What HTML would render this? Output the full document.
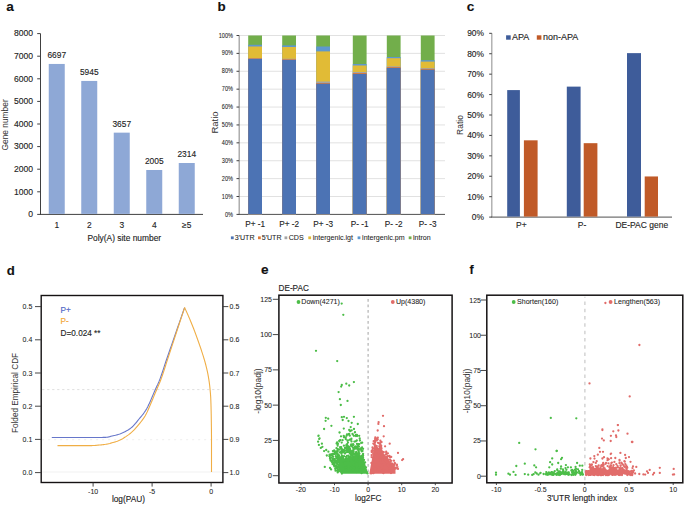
<!DOCTYPE html>
<html><head><meta charset="utf-8"><style>
html,body{margin:0;padding:0;background:#fff;width:685px;height:505px;overflow:hidden}
svg{display:block;font-family:"Liberation Sans", sans-serif}
text{stroke:currentColor;stroke-width:0.12px;paint-order:stroke}
text.s{stroke-width:0.06px}
text.r{stroke:none}
</style></head><body>
<svg width="685" height="505" viewBox="0 0 685 505">
<rect width="685" height="505" fill="#fff"/>
<text transform="translate(6.20,11.20) scale(1,1.0)" font-size="13.6" text-anchor="start" fill="#111" color="#111" font-weight="bold" >a</text>
<line x1="40.50" y1="33.60" x2="40.50" y2="214.90" stroke="#404040" stroke-width="1" />
<line x1="40.00" y1="214.40" x2="203.00" y2="214.40" stroke="#404040" stroke-width="1" />
<line x1="37.20" y1="214.40" x2="40.50" y2="214.40" stroke="#404040" stroke-width="1" />
<text transform="translate(33.00,217.10) scale(1,1.03)" font-size="8.6" text-anchor="end" fill="#222" color="#222" font-weight="normal" >0</text>
<line x1="37.20" y1="191.80" x2="40.50" y2="191.80" stroke="#404040" stroke-width="1" />
<text transform="translate(33.00,194.50) scale(1,1.03)" font-size="8.6" text-anchor="end" fill="#222" color="#222" font-weight="normal" >1000</text>
<line x1="37.20" y1="169.20" x2="40.50" y2="169.20" stroke="#404040" stroke-width="1" />
<text transform="translate(33.00,171.90) scale(1,1.03)" font-size="8.6" text-anchor="end" fill="#222" color="#222" font-weight="normal" >2000</text>
<line x1="37.20" y1="146.60" x2="40.50" y2="146.60" stroke="#404040" stroke-width="1" />
<text transform="translate(33.00,149.30) scale(1,1.03)" font-size="8.6" text-anchor="end" fill="#222" color="#222" font-weight="normal" >3000</text>
<line x1="37.20" y1="124.00" x2="40.50" y2="124.00" stroke="#404040" stroke-width="1" />
<text transform="translate(33.00,126.70) scale(1,1.03)" font-size="8.6" text-anchor="end" fill="#222" color="#222" font-weight="normal" >4000</text>
<line x1="37.20" y1="101.40" x2="40.50" y2="101.40" stroke="#404040" stroke-width="1" />
<text transform="translate(33.00,104.10) scale(1,1.03)" font-size="8.6" text-anchor="end" fill="#222" color="#222" font-weight="normal" >5000</text>
<line x1="37.20" y1="78.80" x2="40.50" y2="78.80" stroke="#404040" stroke-width="1" />
<text transform="translate(33.00,81.50) scale(1,1.03)" font-size="8.6" text-anchor="end" fill="#222" color="#222" font-weight="normal" >6000</text>
<line x1="37.20" y1="56.20" x2="40.50" y2="56.20" stroke="#404040" stroke-width="1" />
<text transform="translate(33.00,58.90) scale(1,1.03)" font-size="8.6" text-anchor="end" fill="#222" color="#222" font-weight="normal" >7000</text>
<line x1="37.20" y1="33.60" x2="40.50" y2="33.60" stroke="#404040" stroke-width="1" />
<text transform="translate(33.00,36.30) scale(1,1.03)" font-size="8.6" text-anchor="end" fill="#222" color="#222" font-weight="normal" >8000</text>
<rect x="48.75" y="63.95" width="16.00" height="149.95" fill="#8EA8D6" />
<text transform="translate(56.75,58.25) scale(1,1.03)" font-size="8.4" text-anchor="middle" fill="#222" color="#222" font-weight="normal" >6697</text>
<text transform="translate(56.75,228.00) scale(1,1.03)" font-size="8.4" text-anchor="middle" fill="#222" color="#222" font-weight="normal" >1</text>
<rect x="81.25" y="80.94" width="16.00" height="132.96" fill="#8EA8D6" />
<text transform="translate(89.25,75.24) scale(1,1.03)" font-size="8.4" text-anchor="middle" fill="#222" color="#222" font-weight="normal" >5945</text>
<text transform="translate(89.25,228.00) scale(1,1.03)" font-size="8.4" text-anchor="middle" fill="#222" color="#222" font-weight="normal" >2</text>
<rect x="113.75" y="132.65" width="16.00" height="81.25" fill="#8EA8D6" />
<text transform="translate(121.75,126.95) scale(1,1.03)" font-size="8.4" text-anchor="middle" fill="#222" color="#222" font-weight="normal" >3657</text>
<text transform="translate(121.75,228.00) scale(1,1.03)" font-size="8.4" text-anchor="middle" fill="#222" color="#222" font-weight="normal" >3</text>
<rect x="146.25" y="169.99" width="16.00" height="43.91" fill="#8EA8D6" />
<text transform="translate(154.25,164.29) scale(1,1.03)" font-size="8.4" text-anchor="middle" fill="#222" color="#222" font-weight="normal" >2005</text>
<text transform="translate(154.25,228.00) scale(1,1.03)" font-size="8.4" text-anchor="middle" fill="#222" color="#222" font-weight="normal" >4</text>
<rect x="178.75" y="163.00" width="16.00" height="50.90" fill="#8EA8D6" />
<text transform="translate(186.75,157.30) scale(1,1.03)" font-size="8.4" text-anchor="middle" fill="#222" color="#222" font-weight="normal" >2314</text>
<text transform="translate(186.75,228.00) scale(1,1.03)" font-size="8.4" text-anchor="middle" fill="#222" color="#222" font-weight="normal" >≥5</text>
<text transform="translate(124.30,240.50) scale(1,1.03)" font-size="8.4" text-anchor="middle" fill="#222" color="#222" font-weight="normal" >Poly(A) site number</text>
<text class="r" x="0" y="0" font-size="8.4" text-anchor="middle" fill="#333" color="#333" transform="translate(7.90,124.90) rotate(-90)">Gene number</text>
<text transform="translate(217.60,11.10) scale(1,1.0)" font-size="13.4" text-anchor="start" fill="#111" color="#111" font-weight="bold" >b</text>
<line x1="239.20" y1="196.51" x2="445.00" y2="196.51" stroke="#D9D9D9" stroke-width="0.8" />
<line x1="239.20" y1="178.62" x2="445.00" y2="178.62" stroke="#D9D9D9" stroke-width="0.8" />
<line x1="239.20" y1="160.73" x2="445.00" y2="160.73" stroke="#D9D9D9" stroke-width="0.8" />
<line x1="239.20" y1="142.84" x2="445.00" y2="142.84" stroke="#D9D9D9" stroke-width="0.8" />
<line x1="239.20" y1="124.95" x2="445.00" y2="124.95" stroke="#D9D9D9" stroke-width="0.8" />
<line x1="239.20" y1="107.06" x2="445.00" y2="107.06" stroke="#D9D9D9" stroke-width="0.8" />
<line x1="239.20" y1="89.17" x2="445.00" y2="89.17" stroke="#D9D9D9" stroke-width="0.8" />
<line x1="239.20" y1="71.28" x2="445.00" y2="71.28" stroke="#D9D9D9" stroke-width="0.8" />
<line x1="239.20" y1="53.39" x2="445.00" y2="53.39" stroke="#D9D9D9" stroke-width="0.8" />
<line x1="239.20" y1="35.50" x2="445.00" y2="35.50" stroke="#D9D9D9" stroke-width="0.8" />
<line x1="239.20" y1="35.50" x2="239.20" y2="214.40" stroke="#A0A0A0" stroke-width="1.3" />
<line x1="238.60" y1="214.40" x2="445.00" y2="214.40" stroke="#505050" stroke-width="1" />
<line x1="236.50" y1="214.40" x2="239.20" y2="214.40" stroke="#404040" stroke-width="1" />
<text class="s" transform="translate(233.00,216.50) scale(1,1.2)" font-size="5.6" text-anchor="end" fill="#222" color="#222" font-weight="normal" >0%</text>
<line x1="236.50" y1="196.51" x2="239.20" y2="196.51" stroke="#404040" stroke-width="1" />
<text class="s" transform="translate(233.00,198.61) scale(1,1.2)" font-size="5.6" text-anchor="end" fill="#222" color="#222" font-weight="normal" >10%</text>
<line x1="236.50" y1="178.62" x2="239.20" y2="178.62" stroke="#404040" stroke-width="1" />
<text class="s" transform="translate(233.00,180.72) scale(1,1.2)" font-size="5.6" text-anchor="end" fill="#222" color="#222" font-weight="normal" >20%</text>
<line x1="236.50" y1="160.73" x2="239.20" y2="160.73" stroke="#404040" stroke-width="1" />
<text class="s" transform="translate(233.00,162.83) scale(1,1.2)" font-size="5.6" text-anchor="end" fill="#222" color="#222" font-weight="normal" >30%</text>
<line x1="236.50" y1="142.84" x2="239.20" y2="142.84" stroke="#404040" stroke-width="1" />
<text class="s" transform="translate(233.00,144.94) scale(1,1.2)" font-size="5.6" text-anchor="end" fill="#222" color="#222" font-weight="normal" >40%</text>
<line x1="236.50" y1="124.95" x2="239.20" y2="124.95" stroke="#404040" stroke-width="1" />
<text class="s" transform="translate(233.00,127.05) scale(1,1.2)" font-size="5.6" text-anchor="end" fill="#222" color="#222" font-weight="normal" >50%</text>
<line x1="236.50" y1="107.06" x2="239.20" y2="107.06" stroke="#404040" stroke-width="1" />
<text class="s" transform="translate(233.00,109.16) scale(1,1.2)" font-size="5.6" text-anchor="end" fill="#222" color="#222" font-weight="normal" >60%</text>
<line x1="236.50" y1="89.17" x2="239.20" y2="89.17" stroke="#404040" stroke-width="1" />
<text class="s" transform="translate(233.00,91.27) scale(1,1.2)" font-size="5.6" text-anchor="end" fill="#222" color="#222" font-weight="normal" >70%</text>
<line x1="236.50" y1="71.28" x2="239.20" y2="71.28" stroke="#404040" stroke-width="1" />
<text class="s" transform="translate(233.00,73.38) scale(1,1.2)" font-size="5.6" text-anchor="end" fill="#222" color="#222" font-weight="normal" >80%</text>
<line x1="236.50" y1="53.39" x2="239.20" y2="53.39" stroke="#404040" stroke-width="1" />
<text class="s" transform="translate(233.00,55.49) scale(1,1.2)" font-size="5.6" text-anchor="end" fill="#222" color="#222" font-weight="normal" >90%</text>
<line x1="236.50" y1="35.50" x2="239.20" y2="35.50" stroke="#404040" stroke-width="1" />
<text class="s" transform="translate(233.00,37.60) scale(1,1.2)" font-size="5.6" text-anchor="end" fill="#222" color="#222" font-weight="normal" >100%</text>
<rect x="248.20" y="35.50" width="13.80" height="178.90" fill="#72AE4B" />
<rect x="248.20" y="44.80" width="13.80" height="169.60" fill="#5E98CF" />
<rect x="248.20" y="46.50" width="13.80" height="167.90" fill="#E1BB36" />
<rect x="248.20" y="58.00" width="13.80" height="156.40" fill="#A5A5A5" />
<rect x="248.20" y="58.40" width="13.80" height="156.00" fill="#E07B39" />
<rect x="248.20" y="58.90" width="13.80" height="155.50" fill="#4C73B4" />
<rect x="282.20" y="35.50" width="13.80" height="178.90" fill="#72AE4B" />
<rect x="282.20" y="45.40" width="13.80" height="169.00" fill="#5E98CF" />
<rect x="282.20" y="47.00" width="13.80" height="167.40" fill="#E1BB36" />
<rect x="282.20" y="58.70" width="13.80" height="155.70" fill="#A5A5A5" />
<rect x="282.20" y="59.30" width="13.80" height="155.10" fill="#E07B39" />
<rect x="282.20" y="59.90" width="13.80" height="154.50" fill="#4C73B4" />
<rect x="316.20" y="35.50" width="13.80" height="178.90" fill="#72AE4B" />
<rect x="316.20" y="46.50" width="13.80" height="167.90" fill="#5E98CF" />
<rect x="316.20" y="51.40" width="13.80" height="163.00" fill="#E1BB36" />
<rect x="316.20" y="81.50" width="13.80" height="132.90" fill="#A5A5A5" />
<rect x="316.20" y="83.00" width="13.80" height="131.40" fill="#E07B39" />
<rect x="316.20" y="83.70" width="13.80" height="130.70" fill="#4C73B4" />
<rect x="352.80" y="35.50" width="13.80" height="178.90" fill="#72AE4B" />
<rect x="352.80" y="64.00" width="13.80" height="150.40" fill="#5E98CF" />
<rect x="352.80" y="65.50" width="13.80" height="148.90" fill="#E1BB36" />
<rect x="352.80" y="72.00" width="13.80" height="142.40" fill="#A5A5A5" />
<rect x="352.80" y="73.00" width="13.80" height="141.40" fill="#E07B39" />
<rect x="352.80" y="73.90" width="13.80" height="140.50" fill="#4C73B4" />
<rect x="386.80" y="35.50" width="13.80" height="178.90" fill="#72AE4B" />
<rect x="386.80" y="57.00" width="13.80" height="157.40" fill="#5E98CF" />
<rect x="386.80" y="58.20" width="13.80" height="156.20" fill="#E1BB36" />
<rect x="386.80" y="66.30" width="13.80" height="148.10" fill="#A5A5A5" />
<rect x="386.80" y="67.10" width="13.80" height="147.30" fill="#E07B39" />
<rect x="386.80" y="67.90" width="13.80" height="146.50" fill="#4C73B4" />
<rect x="420.80" y="35.50" width="13.80" height="178.90" fill="#72AE4B" />
<rect x="420.80" y="60.20" width="13.80" height="154.20" fill="#5E98CF" />
<rect x="420.80" y="61.60" width="13.80" height="152.80" fill="#E1BB36" />
<rect x="420.80" y="68.10" width="13.80" height="146.30" fill="#A5A5A5" />
<rect x="420.80" y="68.90" width="13.80" height="145.50" fill="#E07B39" />
<rect x="420.80" y="69.70" width="13.80" height="144.70" fill="#4C73B4" />
<text transform="translate(255.10,226.90) scale(1,1.03)" font-size="8.2" text-anchor="middle" fill="#222" color="#222" font-weight="normal" >P+ -1</text>
<text transform="translate(289.10,226.90) scale(1,1.03)" font-size="8.2" text-anchor="middle" fill="#222" color="#222" font-weight="normal" >P+ -2</text>
<text transform="translate(323.10,226.90) scale(1,1.03)" font-size="8.2" text-anchor="middle" fill="#222" color="#222" font-weight="normal" >P+ -3</text>
<text transform="translate(359.70,226.90) scale(1,1.03)" font-size="8.2" text-anchor="middle" fill="#222" color="#222" font-weight="normal" >P- -1</text>
<text transform="translate(393.70,226.90) scale(1,1.03)" font-size="8.2" text-anchor="middle" fill="#222" color="#222" font-weight="normal" >P- -2</text>
<text transform="translate(427.70,226.90) scale(1,1.03)" font-size="8.2" text-anchor="middle" fill="#222" color="#222" font-weight="normal" >P- -3</text>
<rect x="230.90" y="236.40" width="2.80" height="2.80" fill="#4C73B4" />
<text class="s" transform="translate(234.70,240.40) scale(1,1.03)" font-size="7.1" text-anchor="start" fill="#222" color="#222" font-weight="normal" >3'UTR</text>
<rect x="258.00" y="236.40" width="2.80" height="2.80" fill="#E07B39" />
<text class="s" transform="translate(261.70,240.40) scale(1,1.03)" font-size="7.1" text-anchor="start" fill="#222" color="#222" font-weight="normal" >5'UTR</text>
<rect x="284.50" y="236.40" width="2.80" height="2.80" fill="#A5A5A5" />
<text class="s" transform="translate(288.70,240.40) scale(1,1.03)" font-size="7.1" text-anchor="start" fill="#222" color="#222" font-weight="normal" >CDS</text>
<rect x="308.30" y="236.40" width="2.80" height="2.80" fill="#E1BB36" />
<text class="s" transform="translate(312.80,240.40) scale(1,1.03)" font-size="7.1" text-anchor="start" fill="#222" color="#222" font-weight="normal" >intergenic.igt</text>
<rect x="357.60" y="236.40" width="2.80" height="2.80" fill="#5E98CF" />
<text class="s" transform="translate(362.10,240.40) scale(1,1.03)" font-size="7.1" text-anchor="start" fill="#222" color="#222" font-weight="normal" >intergenic.pm</text>
<rect x="408.70" y="236.40" width="2.80" height="2.80" fill="#72AE4B" />
<text class="s" transform="translate(413.00,240.40) scale(1,1.03)" font-size="7.1" text-anchor="start" fill="#222" color="#222" font-weight="normal" >intron</text>
<text class="r" x="0" y="0" font-size="9.5" text-anchor="middle" fill="#333" color="#333" transform="translate(218.20,122.50) rotate(-90)">Ratio</text>
<text transform="translate(466.80,11.30) scale(1,1.0)" font-size="13.6" text-anchor="start" fill="#111" color="#111" font-weight="bold" >c</text>
<line x1="491.80" y1="33.32" x2="491.80" y2="217.10" stroke="#A6A6A6" stroke-width="1.3" />
<line x1="491.20" y1="217.10" x2="672.00" y2="217.10" stroke="#505050" stroke-width="1" />
<line x1="489.20" y1="217.10" x2="491.80" y2="217.10" stroke="#404040" stroke-width="1" />
<text transform="translate(484.00,220.10) scale(1,1.03)" font-size="8.4" text-anchor="end" fill="#222" color="#222" font-weight="normal" >0%</text>
<line x1="489.20" y1="196.68" x2="491.80" y2="196.68" stroke="#404040" stroke-width="1" />
<text transform="translate(484.00,199.68) scale(1,1.03)" font-size="8.4" text-anchor="end" fill="#222" color="#222" font-weight="normal" >10%</text>
<line x1="489.20" y1="176.26" x2="491.80" y2="176.26" stroke="#404040" stroke-width="1" />
<text transform="translate(484.00,179.26) scale(1,1.03)" font-size="8.4" text-anchor="end" fill="#222" color="#222" font-weight="normal" >20%</text>
<line x1="489.20" y1="155.84" x2="491.80" y2="155.84" stroke="#404040" stroke-width="1" />
<text transform="translate(484.00,158.84) scale(1,1.03)" font-size="8.4" text-anchor="end" fill="#222" color="#222" font-weight="normal" >30%</text>
<line x1="489.20" y1="135.42" x2="491.80" y2="135.42" stroke="#404040" stroke-width="1" />
<text transform="translate(484.00,138.42) scale(1,1.03)" font-size="8.4" text-anchor="end" fill="#222" color="#222" font-weight="normal" >40%</text>
<line x1="489.20" y1="115.00" x2="491.80" y2="115.00" stroke="#404040" stroke-width="1" />
<text transform="translate(484.00,118.00) scale(1,1.03)" font-size="8.4" text-anchor="end" fill="#222" color="#222" font-weight="normal" >50%</text>
<line x1="489.20" y1="94.58" x2="491.80" y2="94.58" stroke="#404040" stroke-width="1" />
<text transform="translate(484.00,97.58) scale(1,1.03)" font-size="8.4" text-anchor="end" fill="#222" color="#222" font-weight="normal" >60%</text>
<line x1="489.20" y1="74.16" x2="491.80" y2="74.16" stroke="#404040" stroke-width="1" />
<text transform="translate(484.00,77.16) scale(1,1.03)" font-size="8.4" text-anchor="end" fill="#222" color="#222" font-weight="normal" >70%</text>
<line x1="489.20" y1="53.74" x2="491.80" y2="53.74" stroke="#404040" stroke-width="1" />
<text transform="translate(484.00,56.74) scale(1,1.03)" font-size="8.4" text-anchor="end" fill="#222" color="#222" font-weight="normal" >80%</text>
<line x1="489.20" y1="33.32" x2="491.80" y2="33.32" stroke="#404040" stroke-width="1" />
<text transform="translate(484.00,36.32) scale(1,1.03)" font-size="8.4" text-anchor="end" fill="#222" color="#222" font-weight="normal" >90%</text>
<rect x="507.20" y="90.09" width="12.70" height="126.51" fill="#3E5C9A" />
<rect x="523.90" y="140.32" width="13.70" height="76.28" fill="#C05A28" />
<text transform="translate(521.30,227.80) scale(1,1.03)" font-size="8.5" text-anchor="middle" fill="#222" color="#222" font-weight="normal" >P+</text>
<rect x="566.80" y="86.62" width="13.80" height="129.98" fill="#3E5C9A" />
<rect x="583.70" y="143.18" width="13.70" height="73.42" fill="#C05A28" />
<text transform="translate(582.00,227.80) scale(1,1.03)" font-size="8.5" text-anchor="middle" fill="#222" color="#222" font-weight="normal" >P-</text>
<rect x="627.00" y="53.13" width="14.00" height="163.47" fill="#3E5C9A" />
<rect x="644.70" y="176.46" width="13.30" height="40.14" fill="#C05A28" />
<text transform="translate(641.80,227.80) scale(1,1.03)" font-size="8.5" text-anchor="middle" fill="#222" color="#222" font-weight="normal" >DE-PAC gene</text>
<rect x="506.10" y="35.30" width="4.60" height="4.40" fill="#3E5C9A" />
<text transform="translate(512.00,40.20) scale(1,1.03)" font-size="9.0" text-anchor="start" fill="#222" color="#222" font-weight="normal" >APA</text>
<rect x="536.80" y="35.30" width="4.60" height="4.40" fill="#C05A28" />
<text transform="translate(543.00,40.20) scale(1,1.03)" font-size="9.0" text-anchor="start" fill="#222" color="#222" font-weight="normal" >non-APA</text>
<text class="r" x="0" y="0" font-size="8.5" text-anchor="middle" fill="#333" color="#333" transform="translate(462.70,125.00) rotate(-90)">Ratio</text>
<text transform="translate(6.80,274.50) scale(1,1.0)" font-size="13.2" text-anchor="start" fill="#111" color="#111" font-weight="bold" >d</text>
<line x1="42.20" y1="389.60" x2="221.90" y2="389.60" stroke="#D6D6D6" stroke-width="0.8" stroke-dasharray="2.2,2.8"/>
<line x1="42.20" y1="439.70" x2="221.90" y2="439.70" stroke="#E8E8E8" stroke-width="0.8" stroke-dasharray="2,4"/>
<line x1="42.20" y1="472.00" x2="221.90" y2="472.00" stroke="#EEEEEE" stroke-width="0.8" />
<path d="M51.80,437.50 L52.92,437.50 L54.03,437.50 L55.15,437.50 L56.26,437.50 L57.38,437.50 L58.50,437.50 L59.61,437.50 L60.73,437.50 L61.84,437.50 L62.96,437.50 L64.08,437.50 L65.19,437.50 L66.31,437.50 L67.42,437.50 L68.54,437.50 L69.66,437.50 L70.77,437.50 L71.89,437.50 L73.00,437.50 L74.12,437.50 L75.24,437.50 L76.35,437.50 L77.47,437.50 L78.58,437.50 L79.70,437.50 L80.82,437.50 L81.93,437.50 L83.05,437.50 L84.16,437.50 L85.28,437.50 L86.39,437.50 L87.51,437.50 L88.63,437.50 L89.74,437.50 L90.86,437.50 L91.97,437.50 L93.09,437.50 L94.21,437.49 L95.32,437.49 L96.44,437.48 L97.55,437.48 L98.67,437.47 L99.79,437.46 L100.90,437.45 L102.02,437.44 L103.13,437.42 L104.25,437.41 L105.37,437.39 L106.48,437.29 L107.60,437.12 L108.71,436.89 L109.83,436.63 L110.95,436.34 L112.06,436.04 L113.18,435.75 L114.29,435.48 L115.41,435.22 L116.53,434.93 L117.64,434.63 L118.76,434.30 L119.87,433.94 L120.99,433.53 L122.11,433.08 L123.22,432.58 L124.34,432.04 L125.45,431.46 L126.57,430.85 L127.69,430.20 L128.80,429.49 L129.92,428.73 L131.03,427.90 L132.15,426.99 L133.27,425.93 L134.38,424.73 L135.50,423.42 L136.61,422.05 L137.73,420.65 L138.85,419.27 L139.96,417.92 L141.08,416.59 L142.19,415.23 L143.31,413.80 L144.43,412.28 L145.54,410.61 L146.66,408.75 L147.77,406.65 L148.89,404.36 L150.01,401.92 L151.12,399.37 L152.24,396.77 L153.35,394.15 L154.47,391.55 L155.58,389.03 L156.70,386.60 L157.82,384.18 L158.93,381.63 L160.05,378.84 L161.16,375.78 L162.28,372.51 L163.40,369.12 L164.51,365.69 L165.63,362.29 L166.74,359.00 L167.86,355.75 L168.98,352.52 L170.09,349.29 L171.21,346.07 L172.32,342.85 L173.44,339.64 L174.56,336.43 L175.67,333.22 L176.79,330.00 L177.90,326.80 L179.02,323.59 L180.14,320.39 L181.25,317.19 L182.37,313.99 L183.48,310.79 L184.60,307.60" fill="none" stroke="#6676CA" stroke-width="1.1" stroke-linejoin="round"/>
<path d="M57.50,445.60 L58.57,445.60 L59.64,445.60 L60.70,445.60 L61.77,445.60 L62.84,445.60 L63.91,445.60 L64.98,445.60 L66.04,445.60 L67.11,445.60 L68.18,445.60 L69.25,445.60 L70.32,445.60 L71.38,445.60 L72.45,445.60 L73.52,445.60 L74.59,445.60 L75.66,445.60 L76.73,445.60 L77.79,445.60 L78.86,445.60 L79.93,445.60 L81.00,445.60 L82.07,445.60 L83.13,445.60 L84.20,445.60 L85.27,445.60 L86.34,445.60 L87.41,445.60 L88.47,445.60 L89.54,445.60 L90.61,445.60 L91.68,445.58 L92.75,445.54 L93.81,445.50 L94.88,445.43 L95.95,445.36 L97.02,445.27 L98.09,445.17 L99.15,445.07 L100.22,444.96 L101.29,444.84 L102.36,444.71 L103.43,444.58 L104.49,444.45 L105.56,444.31 L106.63,444.13 L107.70,443.92 L108.77,443.67 L109.84,443.41 L110.90,443.12 L111.97,442.82 L113.04,442.52 L114.11,442.21 L115.18,441.89 L116.24,441.54 L117.31,441.16 L118.38,440.75 L119.45,440.31 L120.52,439.82 L121.58,439.27 L122.65,438.66 L123.72,438.01 L124.79,437.34 L125.86,436.64 L126.92,435.91 L127.99,435.15 L129.06,434.35 L130.13,433.51 L131.20,432.61 L132.26,431.67 L133.33,430.66 L134.40,429.57 L135.47,428.42 L136.54,427.21 L137.61,425.96 L138.67,424.68 L139.74,423.37 L140.81,422.03 L141.88,420.64 L142.95,419.17 L144.01,417.61 L145.08,415.92 L146.15,414.06 L147.22,411.88 L148.29,409.45 L149.35,406.96 L150.42,404.51 L151.49,402.01 L152.56,399.46 L153.63,396.89 L154.69,394.30 L155.76,391.72 L156.83,389.17 L157.90,386.68 L158.97,384.23 L160.03,381.69 L161.10,378.93 L162.17,375.95 L163.24,372.81 L164.31,369.55 L165.37,366.24 L166.44,362.93 L167.51,359.66 L168.58,356.43 L169.65,353.17 L170.72,349.90 L171.78,346.62 L172.85,343.34 L173.92,340.06 L174.99,336.79 L176.06,333.53 L177.12,330.27 L178.19,327.03 L179.26,323.78 L180.33,320.54 L181.40,317.30 L182.46,314.06 L183.53,310.83 L184.60,307.60" fill="none" stroke="#F0AE45" stroke-width="1.1" stroke-linejoin="round"/>
<path d="M184.60,307.60 L185.25,308.98 L185.88,310.36 L186.51,311.74 L187.14,313.13 L187.75,314.51 L188.36,315.89 L188.96,317.27 L189.55,318.65 L190.14,320.03 L190.72,321.42 L191.29,322.80 L191.85,324.18 L192.41,325.56 L192.97,326.94 L193.51,328.32 L194.05,329.70 L194.58,331.09 L195.09,332.47 L195.60,333.85 L196.10,335.23 L196.60,336.61 L197.09,337.99 L197.58,339.37 L198.07,340.76 L198.56,342.14 L199.05,343.52 L199.53,344.90 L200.01,346.28 L200.49,347.66 L200.96,349.05 L201.42,350.43 L201.87,351.81 L202.32,353.19 L202.76,354.57 L203.20,355.95 L203.63,357.33 L204.06,358.72 L204.47,360.10 L204.87,361.48 L205.25,362.86 L205.61,364.24 L205.97,365.62 L206.32,367.01 L206.65,368.39 L206.98,369.77 L207.29,371.15 L207.59,372.53 L207.87,373.91 L208.13,375.29 L208.37,376.68 L208.60,378.06 L208.83,379.44 L209.04,380.82 L209.24,382.20 L209.43,383.58 L209.61,384.96 L209.77,386.35 L209.91,387.73 L210.05,389.11 L210.18,390.49 L210.30,391.87 L210.42,393.25 L210.52,394.64 L210.62,396.02 L210.70,397.40 L210.77,398.78 L210.83,400.16 L210.88,401.54 L210.92,402.92 L210.97,404.31 L211.01,405.69 L211.05,407.07 L211.08,408.45 L211.11,409.83 L211.15,411.21 L211.17,412.59 L211.20,413.98 L211.23,415.36 L211.25,416.74 L211.27,418.12 L211.29,419.50 L211.31,420.88 L211.33,422.27 L211.35,423.65 L211.37,425.03 L211.39,426.41 L211.41,427.79 L211.43,429.17 L211.44,430.55 L211.46,431.94 L211.47,433.32 L211.48,434.70 L211.49,436.08 L211.50,437.46 L211.50,438.84 L211.50,440.23 L211.50,441.61 L211.50,442.99 L211.50,444.37 L211.50,445.75 L211.50,447.13 L211.50,448.51 L211.50,449.90 L211.50,451.28 L211.50,452.66 L211.50,454.04 L211.50,455.42 L211.50,456.80 L211.50,458.18 L211.50,459.57 L211.50,460.95 L211.50,462.33 L211.50,463.71 L211.50,465.09 L211.50,466.47 L211.50,467.86 L211.50,469.24 L211.50,470.62 L211.50,472.00" fill="none" stroke="#F0AE45" stroke-width="1.1" stroke-linejoin="round"/>
<rect x="41.20" y="295.50" width="181.70" height="187.00" fill="none" stroke="#151213" stroke-width="1.4"/>
<line x1="35.00" y1="472.60" x2="41.20" y2="472.60" stroke="#333" stroke-width="0.9" />
<text class="s" transform="translate(32.30,475.10) scale(1,1.03)" font-size="7" text-anchor="end" fill="#222" color="#222" font-weight="normal" >0.0</text>
<line x1="222.90" y1="472.60" x2="228.30" y2="472.60" stroke="#333" stroke-width="0.9" />
<text class="s" transform="translate(229.60,475.10) scale(1,1.03)" font-size="7" text-anchor="start" fill="#222" color="#222" font-weight="normal" >1.0</text>
<line x1="35.00" y1="439.40" x2="41.20" y2="439.40" stroke="#333" stroke-width="0.9" />
<text class="s" transform="translate(32.30,441.90) scale(1,1.03)" font-size="7" text-anchor="end" fill="#222" color="#222" font-weight="normal" >0.1</text>
<line x1="222.90" y1="439.40" x2="228.30" y2="439.40" stroke="#333" stroke-width="0.9" />
<text class="s" transform="translate(229.60,441.90) scale(1,1.03)" font-size="7" text-anchor="start" fill="#222" color="#222" font-weight="normal" >0.9</text>
<line x1="35.00" y1="406.20" x2="41.20" y2="406.20" stroke="#333" stroke-width="0.9" />
<text class="s" transform="translate(32.30,408.70) scale(1,1.03)" font-size="7" text-anchor="end" fill="#222" color="#222" font-weight="normal" >0.2</text>
<line x1="222.90" y1="406.20" x2="228.30" y2="406.20" stroke="#333" stroke-width="0.9" />
<text class="s" transform="translate(229.60,408.70) scale(1,1.03)" font-size="7" text-anchor="start" fill="#222" color="#222" font-weight="normal" >0.8</text>
<line x1="35.00" y1="373.00" x2="41.20" y2="373.00" stroke="#333" stroke-width="0.9" />
<text class="s" transform="translate(32.30,375.50) scale(1,1.03)" font-size="7" text-anchor="end" fill="#222" color="#222" font-weight="normal" >0.3</text>
<line x1="222.90" y1="373.00" x2="228.30" y2="373.00" stroke="#333" stroke-width="0.9" />
<text class="s" transform="translate(229.60,375.50) scale(1,1.03)" font-size="7" text-anchor="start" fill="#222" color="#222" font-weight="normal" >0.7</text>
<line x1="35.00" y1="339.80" x2="41.20" y2="339.80" stroke="#333" stroke-width="0.9" />
<text class="s" transform="translate(32.30,342.30) scale(1,1.03)" font-size="7" text-anchor="end" fill="#222" color="#222" font-weight="normal" >0.4</text>
<line x1="222.90" y1="339.80" x2="228.30" y2="339.80" stroke="#333" stroke-width="0.9" />
<text class="s" transform="translate(229.60,342.30) scale(1,1.03)" font-size="7" text-anchor="start" fill="#222" color="#222" font-weight="normal" >0.6</text>
<line x1="35.00" y1="306.60" x2="41.20" y2="306.60" stroke="#333" stroke-width="0.9" />
<text class="s" transform="translate(32.30,309.10) scale(1,1.03)" font-size="7" text-anchor="end" fill="#222" color="#222" font-weight="normal" >0.5</text>
<line x1="222.90" y1="306.60" x2="228.30" y2="306.60" stroke="#333" stroke-width="0.9" />
<text class="s" transform="translate(229.60,309.10) scale(1,1.03)" font-size="7" text-anchor="start" fill="#222" color="#222" font-weight="normal" >0.5</text>
<line x1="93.10" y1="482.50" x2="93.10" y2="486.60" stroke="#333" stroke-width="0.9" />
<text class="s" transform="translate(93.10,494.00) scale(1,1.03)" font-size="7" text-anchor="middle" fill="#222" color="#222" font-weight="normal" >-10</text>
<line x1="152.10" y1="482.50" x2="152.10" y2="486.60" stroke="#333" stroke-width="0.9" />
<text class="s" transform="translate(152.10,494.00) scale(1,1.03)" font-size="7" text-anchor="middle" fill="#222" color="#222" font-weight="normal" >-5</text>
<line x1="211.10" y1="482.50" x2="211.10" y2="486.60" stroke="#333" stroke-width="0.9" />
<text class="s" transform="translate(211.10,494.00) scale(1,1.03)" font-size="7" text-anchor="middle" fill="#222" color="#222" font-weight="normal" >0</text>
<text transform="translate(128.40,501.70) scale(1,1.03)" font-size="8.3" text-anchor="middle" fill="#222" color="#222" font-weight="normal" >log(PAU)</text>
<text class="r" x="0" y="0" font-size="8.2" text-anchor="middle" fill="#333" color="#333" transform="translate(18.20,393.00) rotate(-90)">Folded Empirical CDF</text>
<text transform="translate(60.60,313.40) scale(1,1.03)" font-size="8.2" text-anchor="start" fill="#4B63C4" color="#4B63C4" font-weight="normal" >P+</text>
<text transform="translate(60.60,324.40) scale(1,1.03)" font-size="8.2" text-anchor="start" fill="#F2A431" color="#F2A431" font-weight="normal" >P-</text>
<text transform="translate(60.60,335.60) scale(1,1.03)" font-size="8.2" text-anchor="start" fill="#222" color="#222" font-weight="normal" >D=0.024 **</text>
<text transform="translate(261.00,274.30) scale(1,1.0)" font-size="13.6" text-anchor="start" fill="#111" color="#111" font-weight="bold" >e</text>
<text transform="translate(278.50,291.00) scale(1,1.03)" font-size="8.2" text-anchor="start" fill="#222" color="#222" font-weight="normal" >DE-PAC</text>
<line x1="368.10" y1="296.70" x2="368.10" y2="482.00" stroke="#ABABAB" stroke-width="1.1" stroke-dasharray="2.7,2.8" stroke-dashoffset="3.15"/>
<path d="M341.2,473.8 L368.0,473.8 L365.5,465.0 L363.4,457.0 L358.5,454.3 L352.6,456.1 L345.5,457.8 L340.3,460.4 L337.7,466.6 L339.4,471.8Z" fill="#4CBD48"/>
<path d="M341.7 303.6h0M343.3 314.8h0M316.0 350.8h0M337.2 361.1h0M341.8 385.0h0M341.2 386.6h0M346.3 383.7h0M349.2 385.5h0M353.9 382.1h0M338.6 392.1h0M339.9 399.2h0M347.5 400.9h0M340.8 405.0h0M325.8 417.8h0M328.2 418.7h0M325.6 420.8h0M331.4 425.8h0M324.1 429.0h0M341.8 417.2h0M344.0 416.8h0M342.7 420.0h0M346.8 418.1h0M348.5 421.0h0M351.7 422.8h0M353.9 416.8h0M357.8 424.0h0M343.8 428.6h0M350.7 427.1h0M349.2 430.0h0M350.2 431.2h0M351.7 430.3h0M354.0 428.8h0M339.5 432.5h0M355.0 432.2h0M318.6 435.7h0M319.6 438.3h0M353.9 435.8h0M356.9 434.8h0M359.2 435.8h0M344.0 436.5h0M349.6 430.4h0M354.0 429.0h0M339.6 432.6h0M354.9 432.4h0M318.4 435.9h0M319.2 438.9h0M318.1 441.7h0M318.9 444.9h0M321.9 443.7h0M320.8 447.9h0M322.4 446.8h0M324.1 451.1h0M326.2 450.0h0M328.4 451.7h0M326.8 455.5h0M324.8 466.9h0M330.0 468.0h0M331.1 469.4h0M335.5 470.7h0M337.7 472.4h0M336.6 443.5h0M337.7 445.7h0M343.7 435.9h0M345.8 439.2h0M347.5 440.8h0M342.6 440.2h0M346.9 455.9h0M349.0 457.0h0M336.8 453.9h0M353.6 465.3h0M356.0 435.0h0M366.9 472.2h0M354.5 458.1h0M349.8 435.7h0M337.0 443.1h0M346.5 467.2h0M349.4 459.1h0M348.7 460.0h0M347.1 444.5h0M367.5 473.4h0M361.6 461.8h0M341.7 442.6h0M358.8 449.4h0M361.8 448.9h0M366.0 467.4h0M332.6 458.7h0M359.2 444.2h0M359.9 440.5h0M350.9 451.3h0M337.0 462.8h0M334.8 459.2h0M334.2 450.3h0M337.8 444.2h0M341.3 469.0h0M337.8 449.2h0M362.1 459.2h0M337.9 443.7h0M359.0 446.6h0M341.0 436.3h0M333.2 456.8h0M339.0 457.5h0M343.9 451.6h0M351.5 468.2h0M364.1 466.3h0M339.2 440.9h0M357.8 471.2h0M363.1 457.6h0M345.7 437.5h0M338.8 461.7h0M339.5 466.5h0M352.3 445.1h0M336.4 462.3h0M350.9 467.7h0M353.0 444.6h0M346.6 435.7h0M336.5 448.2h0M351.4 438.6h0M343.5 469.2h0M355.9 456.9h0M356.3 472.1h0M348.0 462.7h0M341.9 473.6h0M332.6 455.3h0M357.7 469.6h0M357.7 461.7h0M359.8 470.2h0M343.1 460.9h0M363.9 468.4h0M345.6 465.2h0M362.4 456.4h0M353.4 448.7h0M351.8 457.8h0M332.8 459.1h0M357.3 449.0h0M357.6 456.7h0M346.5 467.1h0M333.0 463.5h0M330.9 457.5h0M348.0 442.6h0M356.2 453.3h0M353.0 470.4h0M341.2 460.6h0M364.0 459.9h0M346.5 469.2h0M342.2 460.1h0M337.3 450.7h0M360.3 470.1h0M363.1 448.8h0M351.8 446.1h0M334.9 453.3h0M361.4 467.5h0M356.7 471.6h0M340.3 440.1h0M346.8 444.4h0M337.9 450.0h0M353.5 453.2h0M341.7 467.1h0M356.6 456.3h0M341.5 465.2h0M347.0 434.3h0M361.2 442.9h0M353.6 451.3h0M353.6 459.7h0M360.3 471.9h0M355.7 441.3h0M347.8 440.5h0M356.8 440.5h0M340.1 447.2h0M356.2 454.3h0M353.0 463.8h0M344.7 465.2h0M365.1 462.4h0M334.7 451.6h0M353.4 470.0h0M344.0 456.2h0M363.0 465.4h0M354.4 441.6h0M357.1 466.3h0M354.1 462.2h0M337.9 469.6h0M366.9 472.7h0M350.1 465.2h0M341.9 470.0h0M362.1 447.3h0M332.9 451.1h0M350.6 464.3h0M348.2 434.4h0M360.0 440.3h0M342.5 465.1h0M349.3 462.5h0M361.6 461.1h0M338.2 454.5h0M340.8 462.7h0M353.9 454.4h0M361.7 455.9h0M341.6 448.7h0M361.8 469.6h0M337.7 467.6h0M351.5 441.4h0M350.1 453.6h0M352.7 434.4h0M344.9 465.6h0M351.1 453.1h0M355.9 436.0h0M350.2 450.0h0M366.0 470.5h0M340.0 452.4h0M334.6 450.8h0M360.6 469.6h0M347.8 446.1h0M337.0 458.2h0M337.1 442.5h0M355.8 446.3h0M343.2 458.3h0M333.8 462.8h0M334.4 453.9h0M339.3 441.3h0M349.8 450.9h0M344.0 450.0h0M349.8 439.7h0M337.5 458.7h0M353.9 454.6h0M362.0 458.0h0M362.2 442.7h0M357.8 466.0h0M341.7 470.5h0M338.8 462.6h0M361.3 450.3h0M359.7 438.4h0M345.0 460.9h0M355.6 470.0h0M348.9 463.9h0M348.8 460.9h0M350.7 454.0h0M351.3 439.2h0M361.6 473.2h0M347.3 464.1h0M342.2 452.1h0M349.3 450.6h0M352.5 433.8h0M356.3 467.3h0M336.7 451.6h0M357.7 449.6h0M349.2 433.9h0M363.6 465.6h0M356.4 468.0h0M353.6 449.6h0M352.5 453.6h0M339.6 470.0h0M357.9 464.7h0M360.6 449.6h0M363.7 468.8h0M356.1 464.2h0M358.7 449.7h0M357.1 436.1h0M342.7 452.2h0M353.9 458.4h0M338.6 471.4h0M355.0 446.9h0M354.7 456.3h0M350.0 449.0h0M356.3 464.0h0M353.1 463.1h0M339.5 449.5h0M344.0 437.3h0M339.3 469.8h0M351.4 452.6h0M363.1 453.8h0M358.7 444.4h0M352.7 457.4h0M340.5 452.0h0M340.7 452.4h0M353.1 444.1h0M362.5 451.0h0M350.7 454.4h0M346.2 448.4h0M354.3 453.7h0M343.9 456.6h0M340.4 457.3h0M346.9 460.1h0M357.0 444.0h0M338.1 460.2h0M348.0 452.1h0M356.2 451.9h0M352.9 445.2h0M353.5 451.7h0M350.8 445.4h0M348.4 455.7h0M348.8 448.0h0M352.3 451.0h0M357.8 453.1h0M356.6 447.5h0M339.2 460.0h0M358.0 454.9h0M346.1 448.2h0M355.2 453.7h0M352.6 455.0h0M357.1 446.6h0M343.6 451.1h0M353.5 444.9h0M351.2 444.4h0M338.4 455.8h0M351.4 455.0h0M346.4 452.1h0M341.9 449.5h0M356.9 458.9h0M358.7 454.9h0M357.5 447.1h0M347.9 447.9h0M358.7 450.0h0M345.1 453.4h0M348.0 450.0h0M338.7 459.6h0M351.8 452.2h0M355.2 448.7h0M357.7 444.4h0M342.0 455.6h0M356.3 456.2h0M343.9 445.7h0M346.0 456.8h0M346.3 445.2h0M355.9 453.8h0M361.6 451.3h0M358.5 448.8h0M344.9 450.6h0M343.0 449.9h0M346.2 449.9h0M347.1 450.4h0M341.5 453.7h0M358.3 453.3h0M359.4 453.7h0M340.9 457.4h0M360.7 448.3h0M336.6 452.8h0M351.2 453.8h0M363.1 455.4h0M358.5 444.2h0M351.3 458.0h0M338.4 455.0h0M340.0 457.2h0M354.2 447.7h0M342.2 457.5h0M350.6 457.5h0M347.0 449.4h0M363.1 455.8h0M349.8 453.2h0M356.2 456.5h0M361.6 450.8h0M359.1 455.7h0M359.9 458.3h0M362.8 455.2h0M350.7 456.5h0M358.5 451.0h0M347.8 445.8h0M346.5 446.2h0M341.7 451.1h0M339.2 455.3h0M357.7 446.4h0M337.7 451.7h0M341.2 447.1h0M342.6 456.6h0M352.7 447.3h0M341.2 448.3h0M340.8 457.4h0M344.7 453.4h0M358.9 452.1h0M343.3 459.9h0M361.6 449.5h0M349.5 447.2h0M358.4 450.3h0M350.8 452.8h0M354.4 447.5h0M336.3 452.0h0M346.4 458.1h0M356.0 454.5h0M345.0 447.9h0M341.9 463.0h0M332.9 463.3h0M341.5 469.1h0M330.1 458.0h0M336.1 462.0h0M341.7 458.7h0M340.7 461.0h0M337.0 463.2h0M333.5 458.8h0M330.0 458.7h0M335.9 467.0h0M334.3 466.4h0M330.5 460.5h0M341.3 465.7h0M339.5 457.4h0M337.3 461.8h0M338.1 458.4h0M334.5 463.4h0M333.3 459.4h0M334.7 466.0h0M332.7 456.6h0M339.8 459.2h0M339.7 459.3h0M331.0 454.5h0M339.0 466.8h0M331.6 460.7h0M341.4 464.5h0M330.2 457.2h0M331.2 455.1h0M335.0 454.1h0M336.5 465.6h0M340.3 469.1h0M334.7 459.3h0M335.0 452.9h0M334.9 466.7h0M343.5 468.5h0M338.7 464.8h0M334.0 465.7h0M330.5 460.2h0M336.5 468.4h0M341.2 464.9h0M342.4 463.6h0M334.2 462.7h0M339.6 469.4h0M338.2 456.6h0M330.1 457.5h0M337.5 466.6h0M334.3 461.9h0M337.0 463.9h0M337.2 457.9h0M341.1 464.7h0M332.5 464.1h0M337.1 454.1h0M329.4 456.2h0M338.7 458.8h0M338.9 467.4h0M334.6 464.5h0M331.9 462.0h0M331.0 460.4h0M337.4 456.1h0M336.6 457.9h0M337.4 459.3h0M338.9 455.5h0M335.9 460.9h0M338.2 466.5h0M340.2 467.7h0M341.4 469.8h0M335.0 461.3h0M337.3 470.8h0M336.7 463.2h0M333.7 453.7h0M339.7 470.7h0M339.8 464.6h0M340.1 458.7h0M336.4 460.6h0M336.7 457.4h0M333.5 460.6h0M332.4 454.0h0M338.8 470.0h0M335.2 468.8h0M337.3 470.8h0M332.5 458.6h0M333.7 453.9h0M342.2 469.0h0M334.8 459.8h0M333.5 462.6h0M335.9 456.8h0M341.4 459.7h0M335.9 456.1h0M329.6 454.7h0" stroke="#4CBD48" stroke-width="2.3" stroke-linecap="round" fill="none"/>
<path d="M369.3,473.8 L370.5,467.0 L371.8,460.0 L373.0,453.0 L374.5,448.0 L376.5,446.5 L379.0,448.0 L382.5,452.0 L386.0,456.5 L389.5,461.0 L393.5,465.5 L395.5,468.0 L395.5,473.8Z" fill="#E16C6A"/>
<path d="M383.0 415.8h0M378.6 422.2h0M378.4 423.9h0M384.0 426.2h0M377.7 430.5h0M383.7 436.3h0M375.0 439.1h0M377.7 439.4h0M381.6 442.1h0M389.7 443.7h0M385.1 446.3h0M381.2 447.4h0M398.0 452.9h0M386.2 451.6h0M402.1 460.1h0M403.1 459.2h0M391.3 460.8h0M396.9 464.7h0M398.0 468.9h0M395.7 468.7h0M389.8 471.2h0M376.4 448.2h0M375.2 445.6h0M388.9 465.9h0M380.6 461.2h0M376.5 448.0h0M377.9 460.4h0M372.6 472.9h0M382.5 456.3h0M377.2 466.3h0M372.5 447.4h0M378.0 457.0h0M375.3 469.7h0M383.2 464.4h0M381.0 470.9h0M385.8 460.5h0M380.2 461.0h0M384.4 467.9h0M389.5 456.0h0M382.6 465.2h0M392.4 465.9h0M376.7 454.9h0M376.3 458.2h0M387.0 463.1h0M386.3 468.9h0M375.1 442.5h0M382.4 453.1h0M377.5 466.1h0M372.1 470.1h0M386.2 456.8h0M374.2 448.4h0M387.7 456.2h0M377.5 458.5h0M372.5 467.0h0M374.9 446.3h0M374.6 462.2h0M393.7 465.7h0M371.7 452.0h0M380.4 444.9h0M384.0 464.8h0M383.0 464.2h0M381.2 447.9h0M371.0 473.4h0M391.8 463.8h0M376.6 446.2h0M383.2 471.0h0M380.4 449.3h0M379.8 462.4h0M381.2 467.8h0M380.9 465.5h0M376.1 449.7h0M375.2 457.1h0M374.7 444.4h0M376.1 454.1h0M378.8 453.3h0M377.8 437.7h0M375.2 446.6h0M381.2 470.7h0M380.3 442.6h0M391.8 463.4h0M379.2 451.0h0M372.4 469.2h0M379.3 465.1h0M381.2 445.7h0M378.9 452.5h0M390.7 461.3h0M374.2 444.5h0M378.0 463.0h0M381.6 451.1h0M378.3 449.6h0M376.1 438.5h0M386.1 466.5h0M389.1 470.5h0M376.2 462.2h0M389.0 471.9h0M382.2 451.3h0M371.7 451.0h0M379.4 455.1h0M378.0 442.8h0M381.5 454.3h0M374.8 461.3h0M376.8 440.4h0M379.7 452.4h0M374.3 458.3h0M390.0 457.2h0M381.2 450.3h0M371.8 451.8h0M371.6 455.1h0M386.7 454.1h0M379.3 446.2h0M377.5 461.4h0M375.3 454.1h0M387.5 471.8h0M380.3 458.0h0M396.9 465.2h0M387.9 459.7h0M381.7 452.2h0M377.9 467.3h0M373.9 455.5h0M378.8 450.2h0M375.5 445.3h0M381.2 445.7h0M384.1 460.7h0M385.6 459.8h0M386.0 467.3h0M379.9 469.4h0M378.9 463.1h0M389.8 462.1h0M397.5 467.1h0M374.5 459.7h0M384.0 457.6h0M380.5 447.4h0M376.8 446.1h0M379.3 443.5h0M372.9 462.7h0M373.2 453.5h0M374.6 468.6h0M377.2 455.5h0M379.5 464.7h0M394.0 467.2h0M386.2 452.4h0M390.1 459.7h0M393.7 466.2h0M373.6 450.8h0M375.3 437.5h0M386.7 471.3h0M371.4 463.0h0M378.2 463.7h0M385.5 454.6h0M380.6 448.3h0M392.8 467.6h0M378.1 451.3h0M387.6 464.9h0M389.8 456.9h0M375.0 440.9h0M376.5 454.6h0M380.4 446.5h0M375.8 468.7h0M383.8 452.1h0M371.6 457.1h0M388.7 459.7h0M377.9 471.3h0M382.6 467.4h0M380.2 464.5h0M378.8 455.8h0M385.0 466.6h0M392.6 463.8h0M381.4 466.3h0M393.6 465.0h0M381.1 450.5h0M388.7 466.6h0M380.4 460.3h0M380.1 447.2h0M372.7 449.2h0M391.2 456.9h0M380.0 452.7h0M381.5 448.7h0M385.3 471.8h0M375.8 469.1h0M379.1 464.5h0M373.1 473.0h0M382.3 472.1h0M376.3 451.9h0M377.8 461.7h0M375.2 450.0h0M387.6 469.4h0M384.4 457.7h0M373.3 467.6h0M381.0 445.4h0M387.1 457.9h0M387.9 453.3h0M386.9 458.7h0M383.4 473.2h0M391.0 473.1h0M381.5 468.7h0M373.6 473.1h0M393.9 460.7h0M396.7 467.3h0M394.8 463.0h0M377.1 466.5h0M382.9 456.6h0M378.0 460.5h0M372.1 457.3h0M376.9 466.2h0M394.4 465.1h0M385.7 470.1h0M380.4 440.7h0M394.6 467.4h0M373.3 443.6h0M381.1 468.0h0M387.6 469.9h0M372.0 473.1h0M375.9 460.0h0M395.0 463.6h0M375.6 461.4h0M379.7 448.5h0M387.2 462.4h0M375.1 441.7h0M373.7 441.2h0M380.2 444.2h0M378.8 451.9h0M374.2 460.0h0M382.1 466.9h0M381.7 453.7h0M384.4 471.4h0M379.9 462.7h0M376.7 458.1h0M378.1 468.9h0M378.2 468.2h0" stroke="#E16C6A" stroke-width="2.3" stroke-linecap="round" fill="none"/>
<rect x="278.90" y="295.20" width="173.20" height="187.80" fill="none" stroke="#151213" stroke-width="1.5"/>
<line x1="272.80" y1="475.70" x2="278.90" y2="475.70" stroke="#333" stroke-width="0.9" />
<text class="s" transform="translate(272.00,478.20) scale(1,1.03)" font-size="7" text-anchor="end" fill="#222" color="#222" font-weight="normal" >0</text>
<line x1="272.80" y1="440.42" x2="278.90" y2="440.42" stroke="#333" stroke-width="0.9" />
<text class="s" transform="translate(272.00,442.92) scale(1,1.03)" font-size="7" text-anchor="end" fill="#222" color="#222" font-weight="normal" >25</text>
<line x1="272.80" y1="405.14" x2="278.90" y2="405.14" stroke="#333" stroke-width="0.9" />
<text class="s" transform="translate(272.00,407.64) scale(1,1.03)" font-size="7" text-anchor="end" fill="#222" color="#222" font-weight="normal" >50</text>
<line x1="272.80" y1="369.86" x2="278.90" y2="369.86" stroke="#333" stroke-width="0.9" />
<text class="s" transform="translate(272.00,372.36) scale(1,1.03)" font-size="7" text-anchor="end" fill="#222" color="#222" font-weight="normal" >75</text>
<line x1="272.80" y1="334.58" x2="278.90" y2="334.58" stroke="#333" stroke-width="0.9" />
<text class="s" transform="translate(272.00,337.08) scale(1,1.03)" font-size="7" text-anchor="end" fill="#222" color="#222" font-weight="normal" >100</text>
<line x1="272.80" y1="299.30" x2="278.90" y2="299.30" stroke="#333" stroke-width="0.9" />
<text class="s" transform="translate(272.00,301.80) scale(1,1.03)" font-size="7" text-anchor="end" fill="#222" color="#222" font-weight="normal" >125</text>
<line x1="300.90" y1="483.00" x2="300.90" y2="485.20" stroke="#333" stroke-width="0.9" />
<text class="s" transform="translate(300.90,492.20) scale(1,1.03)" font-size="7" text-anchor="middle" fill="#222" color="#222" font-weight="normal" >-20</text>
<line x1="334.50" y1="483.00" x2="334.50" y2="485.20" stroke="#333" stroke-width="0.9" />
<text class="s" transform="translate(334.50,492.20) scale(1,1.03)" font-size="7" text-anchor="middle" fill="#222" color="#222" font-weight="normal" >-10</text>
<line x1="368.10" y1="483.00" x2="368.10" y2="485.20" stroke="#333" stroke-width="0.9" />
<text class="s" transform="translate(368.10,492.20) scale(1,1.03)" font-size="7" text-anchor="middle" fill="#222" color="#222" font-weight="normal" >0</text>
<line x1="401.70" y1="483.00" x2="401.70" y2="485.20" stroke="#333" stroke-width="0.9" />
<text class="s" transform="translate(401.70,492.20) scale(1,1.03)" font-size="7" text-anchor="middle" fill="#222" color="#222" font-weight="normal" >10</text>
<line x1="435.30" y1="483.00" x2="435.30" y2="485.20" stroke="#333" stroke-width="0.9" />
<text class="s" transform="translate(435.30,492.20) scale(1,1.03)" font-size="7" text-anchor="middle" fill="#222" color="#222" font-weight="normal" >20</text>
<text transform="translate(368.10,501.20) scale(1,1.03)" font-size="8.2" text-anchor="middle" fill="#222" color="#222" font-weight="normal" >log2FC</text>
<text class="r" x="0" y="0" font-size="8.5" text-anchor="middle" fill="#333" color="#333" transform="translate(261.10,391.00) rotate(-90)">-log10(padj)</text>
<circle cx="298.5" cy="302" r="1.9" fill="#4CBD48"/>
<text class="s" transform="translate(301.30,303.60) scale(1,1.03)" font-size="7.1" text-anchor="start" fill="#222" color="#222" font-weight="normal" >Down(4271)</text>
<circle cx="392.8" cy="302" r="1.9" fill="#E16C6A"/>
<text class="s" transform="translate(395.90,303.60) scale(1,1.03)" font-size="7.1" text-anchor="start" fill="#222" color="#222" font-weight="normal" >Up(4380)</text>
<text transform="translate(469.60,273.90) scale(1,1.0)" font-size="12.6" text-anchor="start" fill="#111" color="#111" font-weight="bold" >f</text>
<line x1="584.90" y1="296.70" x2="584.90" y2="481.80" stroke="#C4C4C4" stroke-width="1.1" stroke-dasharray="3.5,3.8" stroke-dashoffset="2.55"/>
<path d="M496.0 472.6h0M496.0 474.7h0M508.4 473.7h0M510.0 474.7h0M513.5 471.9h0M515.6 474.9h0M516.3 466.0h0M519.2 442.9h0M524.8 463.7h0M524.8 474.1h0M528.2 474.7h0M534.3 465.4h0M536.1 467.3h0M535.5 449.3h0M532.2 474.9h0M533.7 474.1h0M535.3 472.3h0M536.7 473.5h0M538.5 474.7h0M540.3 473.2h0M543.8 474.1h0M547.0 473.5h0M556.9 450.9h0M552.2 458.4h0M562.0 457.8h0M561.1 459.2h0M550.1 462.2h0M552.2 464.5h0M558.2 463.0h0M549.3 467.3h0M565.9 465.1h0M565.5 468.1h0M567.9 467.3h0M570.9 467.3h0M577.1 463.0h0M575.6 466.9h0M579.8 465.7h0M560.8 468.7h0M557.2 469.9h0M554.8 471.1h0M578.0 469.3h0M582.2 469.9h0M540.6 472.8h0M543.6 474.0h0M550.8 417.9h0M576.3 418.3h0M556.5 451.0h0M569.0 474.2h0M575.4 474.8h0M573.4 474.8h0M547.1 473.4h0M580.9 473.9h0M579.3 472.3h0M563.4 472.7h0M566.1 473.7h0M546.5 472.7h0M556.3 474.7h0M574.3 472.5h0M575.5 472.4h0M568.8 472.4h0M546.1 474.6h0M553.7 472.6h0M582.3 474.6h0M556.7 474.9h0M566.0 474.0h0M553.6 474.8h0M571.6 474.9h0M579.1 472.9h0M559.4 472.5h0M551.4 472.2h0M557.2 473.8h0M546.1 474.0h0M558.5 472.9h0M576.3 473.4h0M557.7 473.4h0M572.1 472.2h0M582.1 472.1h0M573.7 474.5h0M546.7 474.4h0M559.5 473.7h0M546.3 472.1h0M552.7 474.9h0M553.3 474.3h0M580.4 474.8h0M558.7 473.1h0M565.4 474.3h0M550.0 474.2h0M575.5 474.6h0M547.4 474.8h0M549.4 473.0h0M568.6 474.8h0M558.6 474.8h0M566.2 472.9h0M557.7 472.5h0M548.9 472.4h0M571.5 475.0h0M552.0 472.1h0M582.5 473.6h0M561.0 472.7h0M568.0 474.5h0M562.9 473.3h0M548.1 474.7h0M547.2 473.5h0M577.0 472.4h0M573.1 474.8h0M569.3 474.4h0M549.9 473.3h0M551.5 474.5h0M556.9 473.4h0M583.0 474.6h0M582.1 473.4h0M564.1 474.2h0M563.7 472.9h0M560.9 472.4h0M559.9 475.0h0M581.5 473.9h0M564.5 473.0h0M554.8 473.6h0M576.2 468.8h0M563.2 470.2h0M576.0 471.2h0M572.6 470.5h0M563.3 471.1h0M560.7 472.6h0M575.9 471.2h0M561.1 466.4h0M572.1 472.1h0M552.4 472.3h0M559.8 471.4h0M566.4 469.7h0M572.1 470.0h0M562.8 471.6h0M574.9 469.6h0M562.9 469.3h0M579.0 471.2h0M582.3 465.7h0M568.1 472.4h0M557.2 469.4h0M581.1 472.7h0M573.4 470.9h0M574.6 474.0h0M576.2 472.1h0M572.6 473.0h0M571.3 470.3h0M571.7 470.9h0M552.9 474.0h0M565.7 471.6h0M558.8 471.3h0M571.6 474.4h0M566.6 473.8h0M553.7 474.1h0M561.8 473.9h0" stroke="#4CBD48" stroke-width="2.3" stroke-linecap="round" fill="none"/>
<path d="M617.8 425.1h0M602.4 430.1h0M613.3 431.3h0M618.4 430.5h0M627.5 433.7h0M610.9 435.8h0M616.0 435.4h0M616.3 437.0h0M602.0 438.6h0M603.8 440.4h0M610.7 441.0h0M631.9 442.0h0M599.3 447.9h0M600.0 451.8h0M603.0 451.8h0M620.4 452.9h0M610.7 454.1h0M611.1 453.6h0M597.8 454.7h0M604.0 457.2h0M611.1 458.2h0M615.3 458.0h0M625.8 458.0h0M629.0 457.1h0M594.5 458.6h0M619.6 460.7h0M630.5 461.8h0M632.4 442.0h0M633.0 466.3h0M636.3 466.9h0M632.5 468.1h0M631.0 471.1h0M633.9 470.5h0M635.1 473.5h0M639.3 474.0h0M643.4 474.4h0M645.2 474.6h0M647.0 471.3h0M648.0 472.9h0M649.7 469.9h0M653.0 474.6h0M654.1 472.9h0M659.8 467.8h0M659.8 472.9h0M673.7 468.9h0M672.9 474.6h0M674.1 474.4h0M639.4 345.0h0M589.5 383.4h0M629.7 396.4h0M618.0 425.1h0M602.4 429.5h0M605.4 303.0h0M588.1 471.1h0M597.2 472.6h0M604.9 473.5h0M589.1 474.8h0M586.0 472.7h0M590.2 472.7h0M586.8 474.5h0M593.4 471.2h0M605.0 471.4h0M601.2 472.4h0M603.1 475.0h0M618.8 472.8h0M618.4 473.7h0M593.2 471.6h0M604.0 473.4h0M630.2 475.1h0M604.7 472.5h0M624.8 471.0h0M586.7 473.4h0M605.1 471.6h0M605.9 474.7h0M593.5 472.8h0M588.9 472.2h0M631.5 472.6h0M630.5 474.8h0M603.9 472.1h0M632.3 473.1h0M595.0 472.3h0M632.6 473.1h0M590.5 473.0h0M586.9 473.6h0M596.2 472.2h0M616.1 474.5h0M586.0 473.2h0M590.1 474.9h0M616.1 472.0h0M589.9 471.7h0M633.0 472.2h0M604.7 473.0h0M606.9 473.5h0M613.3 471.5h0M614.5 472.3h0M600.5 472.4h0M590.8 473.2h0M597.2 472.5h0M613.4 473.5h0M586.1 472.1h0M596.8 474.8h0M624.3 473.3h0M586.0 474.3h0M595.6 473.4h0M610.9 473.7h0M598.0 474.8h0M593.8 472.6h0M621.4 471.8h0M590.8 474.5h0M586.3 474.5h0M610.0 472.8h0M590.5 474.3h0M626.2 471.6h0M597.8 473.3h0M598.7 472.4h0M587.4 473.5h0M618.3 471.3h0M588.9 474.4h0M616.8 473.8h0M586.0 474.0h0M632.1 475.2h0M610.5 471.2h0M620.6 471.9h0M606.9 475.0h0M611.2 471.6h0M590.6 474.9h0M587.3 473.6h0M595.0 471.7h0M605.5 471.2h0M586.7 472.6h0M586.3 471.2h0M602.8 474.1h0M623.5 471.6h0M595.7 472.3h0M604.2 473.1h0M628.6 472.6h0M586.2 473.9h0M587.3 473.7h0M599.1 474.8h0M601.7 473.6h0M589.8 473.3h0M589.6 474.2h0M599.7 471.6h0M589.0 472.6h0M612.9 471.8h0M611.3 473.8h0M586.4 473.8h0M586.5 471.5h0M603.8 472.0h0M623.4 473.0h0M591.6 474.3h0M586.1 474.0h0M586.2 471.6h0M629.7 473.9h0M588.8 471.5h0M631.5 473.8h0M619.0 471.6h0M605.6 472.5h0M589.1 472.4h0M605.0 472.5h0M593.9 471.6h0M619.8 473.7h0M617.8 472.8h0M621.4 473.2h0M603.8 473.4h0M613.1 472.7h0M586.6 471.1h0M588.3 471.2h0M624.4 473.0h0M614.5 471.0h0M597.4 474.7h0M605.3 472.8h0M597.2 471.4h0M587.4 471.7h0M593.4 472.6h0M623.7 471.6h0M589.6 472.2h0M587.5 472.2h0M589.1 473.0h0M586.1 474.9h0M593.2 474.9h0M609.6 473.8h0M597.5 475.0h0M586.8 473.8h0M590.6 473.8h0M612.3 471.7h0M588.3 471.1h0M589.0 471.3h0M594.5 475.1h0M593.0 472.3h0M597.3 472.2h0M612.6 474.0h0M587.5 472.0h0M608.6 475.0h0M606.9 472.8h0M631.8 471.0h0M586.2 474.3h0M594.8 471.2h0M601.3 475.2h0M599.8 472.5h0M586.5 471.3h0M625.2 473.1h0M628.3 471.2h0M589.3 471.2h0M594.3 471.3h0M589.6 472.7h0M591.1 471.2h0M586.1 475.1h0M587.8 473.1h0M594.5 473.2h0M586.4 472.3h0M586.7 473.3h0M627.1 473.5h0M621.8 471.9h0M586.0 473.3h0M598.2 473.4h0M593.5 473.6h0M612.1 474.8h0M591.1 472.9h0M619.4 471.9h0M586.8 472.3h0M586.5 474.2h0M618.9 472.3h0M587.0 471.3h0M589.3 471.4h0M595.6 473.4h0M589.3 471.3h0M610.4 471.2h0M588.3 472.2h0M593.4 471.4h0M595.3 472.3h0M614.0 473.3h0M625.0 473.7h0M614.5 473.4h0M596.2 474.4h0M607.5 475.0h0M612.3 473.9h0M589.9 474.4h0M593.7 471.5h0M586.3 471.7h0M589.8 473.8h0M590.4 471.3h0M614.8 473.3h0M586.1 471.2h0M587.0 472.5h0M622.0 475.0h0M604.9 472.0h0M595.6 472.5h0M591.9 471.1h0M603.3 474.5h0M612.2 471.4h0M600.4 471.7h0M611.0 472.9h0M628.5 474.3h0M586.8 472.3h0M626.5 472.9h0M595.8 472.9h0M615.0 474.9h0M600.5 475.1h0M604.0 471.4h0M618.5 472.8h0M586.2 475.1h0M586.1 473.4h0M598.0 474.7h0M594.1 471.9h0M590.2 471.8h0M602.1 472.5h0M613.9 472.0h0M592.6 472.0h0M632.4 474.5h0M621.2 473.6h0M594.5 471.6h0M619.8 473.1h0M586.1 471.7h0M586.6 474.0h0M625.3 471.8h0M617.2 472.4h0M609.3 474.6h0M605.5 474.4h0M593.5 471.0h0M599.4 473.5h0M587.9 472.6h0M591.4 471.1h0M591.3 472.6h0M597.7 474.0h0M594.4 475.1h0M618.6 474.9h0M609.9 473.8h0M600.7 474.4h0M593.0 473.5h0M609.0 473.2h0M590.4 471.3h0M586.5 472.5h0M603.1 474.2h0M611.3 472.3h0M627.7 472.2h0M611.4 471.3h0M614.0 473.8h0M630.1 474.8h0M609.6 474.5h0M613.0 473.6h0M588.4 473.2h0M625.0 472.0h0M631.7 473.3h0M594.2 471.0h0M594.0 471.7h0M607.4 474.8h0M626.1 473.6h0M593.9 471.5h0M609.6 473.3h0M611.4 472.6h0M624.2 471.9h0M591.0 472.1h0M605.5 474.8h0M587.6 473.7h0M615.0 471.9h0M586.2 473.4h0M619.7 474.7h0M612.3 472.8h0M595.5 473.2h0M625.7 472.3h0M590.3 473.5h0M631.0 471.8h0M586.1 471.5h0M602.1 473.5h0M587.9 471.8h0M603.9 473.7h0M609.7 474.1h0M586.2 473.0h0M620.0 475.0h0M591.5 474.6h0M606.9 474.9h0M588.9 473.9h0M620.5 473.0h0M586.6 471.8h0M587.4 471.4h0M587.3 473.6h0M586.7 474.2h0M612.8 474.4h0M617.7 474.0h0M627.3 475.0h0M605.7 475.1h0M586.6 471.4h0M586.3 471.9h0M593.4 472.9h0M609.1 474.1h0M586.4 472.7h0M601.1 472.6h0M586.8 473.5h0M593.4 473.9h0M598.6 475.0h0M629.1 471.3h0M614.5 474.0h0M590.7 471.5h0M597.9 472.5h0M612.9 474.9h0M593.7 472.2h0M598.8 473.9h0M616.6 473.4h0M590.7 472.4h0M621.1 473.2h0M586.2 472.8h0M589.1 473.8h0M586.3 472.1h0M586.6 473.0h0M632.6 473.3h0M593.9 474.9h0M586.5 472.5h0M618.2 471.0h0M614.9 472.5h0M586.0 472.1h0M596.9 472.6h0M599.7 471.2h0M588.7 475.1h0M596.2 473.0h0M586.4 472.2h0M630.0 473.9h0M599.2 471.2h0M594.1 474.3h0M595.9 473.5h0M625.5 473.7h0M606.3 471.2h0M586.0 474.2h0M602.1 464.8h0M619.4 463.1h0M616.3 464.2h0M593.0 467.1h0M602.4 458.5h0M627.2 472.5h0M602.4 472.2h0M604.3 472.1h0M612.4 472.9h0M593.6 470.9h0M591.0 471.5h0M622.7 464.4h0M594.5 473.4h0M619.5 459.9h0M609.5 472.9h0M595.8 462.9h0M624.6 473.4h0M594.1 471.1h0M596.8 467.6h0M600.6 467.2h0M593.1 470.4h0M626.3 468.4h0M591.4 473.0h0M611.4 471.5h0M600.4 470.8h0M608.8 459.3h0M595.9 470.0h0M596.7 470.2h0M615.2 472.9h0M604.7 468.4h0M589.6 467.3h0M602.3 470.6h0M610.0 466.9h0M590.5 470.6h0M590.1 471.5h0M599.6 473.4h0M597.9 471.0h0M611.9 462.6h0M600.5 470.3h0M614.4 461.9h0M625.1 454.9h0M598.0 472.7h0M624.3 473.2h0M603.5 467.9h0M606.6 471.4h0M623.9 472.0h0M607.6 466.1h0M592.7 471.7h0M605.2 470.0h0M594.8 471.0h0M590.6 473.1h0M599.4 472.8h0M626.0 472.2h0M597.1 467.1h0M615.6 472.2h0M619.6 469.4h0M601.2 469.3h0M596.1 472.2h0M621.7 471.1h0M622.7 472.7h0M592.7 473.3h0M615.6 470.0h0M589.6 473.3h0M619.3 470.6h0M621.5 473.3h0M609.1 473.0h0M614.8 469.5h0M610.1 472.4h0M625.1 473.0h0M590.7 468.7h0M591.4 473.2h0M603.9 469.1h0M622.4 468.1h0M590.9 469.2h0M620.2 473.0h0M616.2 472.2h0M597.9 473.5h0M616.4 470.5h0M622.9 470.9h0M593.2 472.5h0M596.7 461.2h0M594.7 473.1h0M599.8 473.2h0M602.5 469.4h0M611.7 472.7h0M592.7 470.7h0M613.3 471.0h0M608.5 463.3h0M592.9 472.2h0M605.2 470.3h0M622.8 470.1h0M612.2 471.2h0M617.5 465.9h0M597.7 473.0h0M596.5 471.6h0M622.3 472.2h0M610.8 469.2h0M625.4 473.0h0M616.9 471.8h0M591.7 469.3h0M620.3 469.8h0M590.4 458.5h0M601.0 469.3h0M614.9 472.2h0M601.9 471.8h0M591.5 473.2h0M614.6 471.3h0M621.4 473.2h0M598.0 472.7h0M624.8 466.9h0M622.6 470.5h0M591.7 471.2h0M595.4 473.4h0M608.1 472.1h0M591.8 470.5h0M624.4 461.2h0M604.1 473.0h0M616.9 473.0h0M607.0 473.1h0M626.9 470.2h0M603.0 472.2h0M607.5 458.3h0M602.7 472.5h0M606.1 463.0h0M600.9 469.3h0M623.7 471.8h0M618.7 470.3h0M592.7 473.3h0M624.6 470.9h0M603.2 463.0h0M608.5 470.6h0M597.4 467.8h0M596.4 470.8h0M616.4 469.6h0M592.6 472.5h0M613.6 468.0h0M592.6 472.7h0M591.4 471.0h0M610.4 465.3h0M593.4 468.5h0M591.8 469.9h0M596.3 471.7h0M590.5 468.1h0M592.2 467.4h0M599.2 469.7h0M611.2 470.7h0M621.6 462.9h0M597.3 471.8h0M621.7 472.9h0M602.4 471.3h0M626.4 472.9h0M611.9 467.6h0M615.1 473.5h0M624.8 471.9h0M620.7 469.0h0M602.4 465.9h0M612.8 471.8h0M615.2 470.5h0M614.3 469.5h0M618.1 472.8h0M605.3 473.5h0M617.8 467.3h0M619.9 473.3h0M606.9 470.8h0M592.2 472.5h0M626.3 465.5h0M595.8 466.1h0M611.7 471.5h0M611.5 472.4h0M597.0 473.5h0M612.0 469.8h0M615.7 470.6h0M602.9 472.0h0M615.4 471.5h0M609.4 467.5h0M603.3 468.6h0M590.7 472.2h0M620.1 472.8h0M590.6 473.4h0M616.7 473.0h0M603.8 471.1h0M618.4 470.8h0M606.4 473.4h0M618.0 467.4h0M610.6 465.9h0M610.2 468.2h0M620.6 469.5h0M589.8 464.4h0M627.0 472.6h0M590.8 471.8h0M591.6 471.6h0M591.4 472.5h0M589.5 471.1h0M597.9 468.0h0M601.2 472.7h0M625.3 464.1h0M613.4 472.5h0M601.7 471.0h0M601.9 473.4h0M603.7 467.4h0M613.5 465.2h0M613.1 467.5h0M621.5 463.0h0M617.9 471.2h0M612.1 469.0h0M622.0 468.2h0M603.2 472.6h0M598.9 472.3h0M613.0 467.3h0M594.3 470.3h0M620.1 471.6h0M591.5 469.6h0M600.2 472.8h0M597.5 473.5h0M593.0 471.2h0M591.8 473.5h0M607.5 460.2h0M619.8 471.8h0M623.9 473.2h0M593.1 473.5h0M590.6 469.6h0M616.3 470.8h0M618.4 471.0h0M623.7 469.6h0M607.0 472.7h0M602.6 471.1h0M619.3 472.4h0M597.7 466.4h0M590.9 470.3h0M595.2 468.9h0M609.3 473.1h0M615.2 471.3h0M598.7 465.3h0M617.3 471.9h0M612.9 472.9h0M606.2 473.1h0M611.3 463.1h0M611.1 473.3h0M606.0 470.8h0M603.2 472.8h0M597.2 471.0h0M590.9 468.8h0M596.0 472.1h0M591.4 472.0h0M624.3 472.1h0M591.5 471.7h0M624.9 473.1h0M599.5 472.5h0M613.0 470.9h0M591.6 465.2h0M598.9 468.6h0M603.6 464.9h0M590.6 472.4h0M597.4 472.2h0M619.2 470.6h0M599.6 470.5h0M620.3 470.0h0M603.6 469.0h0M610.2 471.3h0M602.6 472.9h0M603.1 464.6h0M598.1 471.6h0M609.7 469.8h0M593.8 471.0h0M615.3 473.3h0M591.9 467.6h0M623.1 473.2h0M591.2 469.4h0M597.4 469.0h0M590.1 470.9h0M593.4 471.8h0M613.6 470.5h0M620.7 465.8h0M610.4 465.6h0M593.9 470.8h0M598.6 469.4h0M591.9 464.4h0M600.5 467.1h0M624.8 461.7h0M601.2 465.3h0M627.4 472.9h0M615.9 468.0h0M603.8 472.1h0M593.8 471.3h0M624.3 471.3h0M596.4 469.4h0M603.0 469.5h0M603.7 472.1h0M590.1 466.3h0M612.1 472.3h0M605.5 469.8h0M605.6 463.8h0M617.3 472.0h0M599.3 469.5h0M593.4 462.1h0M590.3 470.6h0M597.0 470.4h0M590.3 472.4h0M627.0 467.0h0M595.3 470.9h0M590.0 473.0h0M594.3 456.1h0M598.4 472.3h0M590.8 473.0h0M627.3 467.8h0M623.8 465.9h0M617.5 472.3h0M593.6 472.2h0M590.8 472.7h0M614.7 470.7h0M589.6 472.0h0M620.5 465.5h0M615.1 468.0h0M623.4 470.1h0M601.0 469.9h0M597.3 473.3h0M596.6 470.9h0M592.2 473.1h0M596.1 471.6h0M625.5 470.7h0M619.9 467.8h0M609.2 471.9h0M601.3 471.9h0M611.0 465.4h0M617.8 472.0h0M593.0 473.5h0M608.9 472.4h0M589.6 472.0h0" stroke="#E16C6A" stroke-width="2.3" stroke-linecap="round" fill="none"/>
<rect x="486.80" y="295.20" width="196.00" height="187.60" fill="none" stroke="#151213" stroke-width="1.5"/>
<line x1="480.60" y1="476.20" x2="486.80" y2="476.20" stroke="#333" stroke-width="0.9" />
<text class="s" transform="translate(481.00,478.70) scale(1,1.03)" font-size="7" text-anchor="end" fill="#222" color="#222" font-weight="normal" >0</text>
<line x1="480.60" y1="440.96" x2="486.80" y2="440.96" stroke="#333" stroke-width="0.9" />
<text class="s" transform="translate(481.00,443.46) scale(1,1.03)" font-size="7" text-anchor="end" fill="#222" color="#222" font-weight="normal" >25</text>
<line x1="480.60" y1="405.72" x2="486.80" y2="405.72" stroke="#333" stroke-width="0.9" />
<text class="s" transform="translate(481.00,408.22) scale(1,1.03)" font-size="7" text-anchor="end" fill="#222" color="#222" font-weight="normal" >50</text>
<line x1="480.60" y1="370.48" x2="486.80" y2="370.48" stroke="#333" stroke-width="0.9" />
<text class="s" transform="translate(481.00,372.98) scale(1,1.03)" font-size="7" text-anchor="end" fill="#222" color="#222" font-weight="normal" >75</text>
<line x1="480.60" y1="335.24" x2="486.80" y2="335.24" stroke="#333" stroke-width="0.9" />
<text class="s" transform="translate(481.00,337.74) scale(1,1.03)" font-size="7" text-anchor="end" fill="#222" color="#222" font-weight="normal" >100</text>
<line x1="480.60" y1="300.00" x2="486.80" y2="300.00" stroke="#333" stroke-width="0.9" />
<text class="s" transform="translate(481.00,302.50) scale(1,1.03)" font-size="7" text-anchor="end" fill="#222" color="#222" font-weight="normal" >125</text>
<line x1="496.40" y1="482.80" x2="496.40" y2="485.00" stroke="#333" stroke-width="0.9" />
<text class="s" transform="translate(496.40,492.20) scale(1,1.03)" font-size="7" text-anchor="middle" fill="#222" color="#222" font-weight="normal" >-10</text>
<line x1="540.60" y1="482.80" x2="540.60" y2="485.00" stroke="#333" stroke-width="0.9" />
<text class="s" transform="translate(540.60,492.20) scale(1,1.03)" font-size="7" text-anchor="middle" fill="#222" color="#222" font-weight="normal" >-0.5</text>
<line x1="584.80" y1="482.80" x2="584.80" y2="485.00" stroke="#333" stroke-width="0.9" />
<text class="s" transform="translate(584.80,492.20) scale(1,1.03)" font-size="7" text-anchor="middle" fill="#222" color="#222" font-weight="normal" >0</text>
<line x1="629.00" y1="482.80" x2="629.00" y2="485.00" stroke="#333" stroke-width="0.9" />
<text class="s" transform="translate(629.00,492.20) scale(1,1.03)" font-size="7" text-anchor="middle" fill="#222" color="#222" font-weight="normal" >0.5</text>
<line x1="673.20" y1="482.80" x2="673.20" y2="485.00" stroke="#333" stroke-width="0.9" />
<text class="s" transform="translate(673.20,492.20) scale(1,1.03)" font-size="7" text-anchor="middle" fill="#222" color="#222" font-weight="normal" >10</text>
<text transform="translate(582.00,501.20) scale(1,1.03)" font-size="8.3" text-anchor="middle" fill="#222" color="#222" font-weight="normal" >3'UTR length index</text>
<text class="r" x="0" y="0" font-size="8.4" text-anchor="middle" fill="#333" color="#333" transform="translate(470.20,391.00) rotate(-90)">-log10(padj)</text>
<circle cx="513.7" cy="302" r="1.9" fill="#4CBD48"/>
<text class="s" transform="translate(517.00,303.60) scale(1,1.03)" font-size="7.1" text-anchor="start" fill="#222" color="#222" font-weight="normal" >Shorten(160)</text>
<circle cx="610.6" cy="302" r="1.9" fill="#E16C6A"/>
<text class="s" transform="translate(614.00,303.60) scale(1,1.03)" font-size="7.1" text-anchor="start" fill="#222" color="#222" font-weight="normal" >Lengthen(563)</text>
</svg></body></html>
